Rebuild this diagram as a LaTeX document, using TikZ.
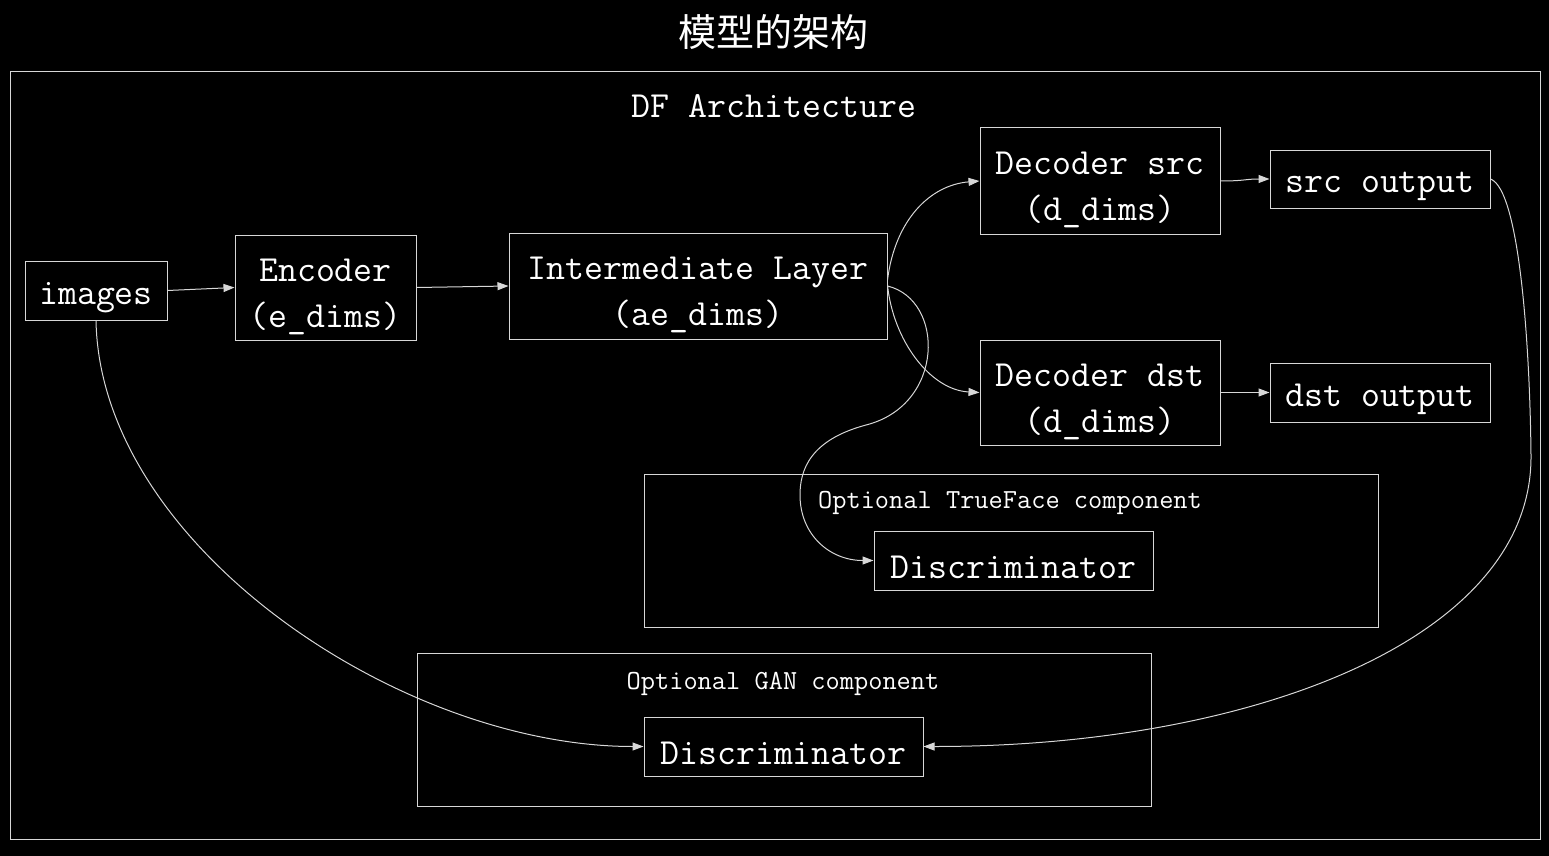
\documentclass[tikz,border=0pt]{standalone}
\usepackage{fontspec}
\newfontfamily\cjkfont{Noto Sans CJK SC}
\usetikzlibrary{arrows.meta}
\definecolor{linecol}{RGB}{215,215,215}
\newcommand{\bigtxt}{\ttfamily\fontsize{36.8}{46}\selectfont}
\newcommand{\smalltxt}{\ttfamily\fontsize{27.6}{30}\selectfont}
\newcommand{\onestrut}{\rule{0pt}{36pt}}
\newcommand{\twostrut}{\rule{0pt}{41pt}}
\tikzset{
  box/.style={draw=linecol, line width=1pt, inner sep=0pt, text=white, align=center, font=\bigtxt},
  cluster/.style={draw=linecol, line width=1pt},
  lbl/.style={text=white, inner sep=0pt},
  conn/.style={draw=linecol, line width=1pt, -{Triangle[length=11pt,width=8pt]}}
}
\begin{document}
\begin{tikzpicture}[x=1pt,y=-1pt]
\fill[black] (0,0) rectangle (1549,856);
\useasboundingbox (0,0) rectangle (1549,856);
% title
\node[lbl, font=\cjkfont\fontsize{38}{40}\selectfont] (title) at (773,32) {模型的架构};
% outer cluster
\draw[cluster] (10,72) rectangle (1540,839);
\node[lbl, font=\bigtxt] (dflbl) at (774,106) {DF Architecture};
% optional clusters
\draw[cluster] (644,474) rectangle (1378,627);
\node[lbl, font=\smalltxt] (tflbl) at (1010,503) {Optional TrueFace component};
\draw[cluster] (417,653) rectangle (1151,806);
\node[lbl, font=\smalltxt] (ganlbl) at (783,684) {Optional GAN component};
% nodes
\node[box, minimum width=142pt, minimum height=59pt] (images) at (96,290.5) {\onestrut images};
\node[box, minimum width=181pt, minimum height=105pt] (enc) at (325.5,287.5) {\twostrut Encoder\\(e\_dims)};
\node[box, minimum width=378pt, minimum height=106pt] (inter) at (698,286) {\twostrut Intermediate Layer\\(ae\_dims)};
\node[box, minimum width=240pt, minimum height=106pt] (decsrc) at (1100,181) {\twostrut Decoder src\\(d\_dims)};
\node[box, minimum width=220pt, minimum height=58pt] (srcout) at (1380,179) {\onestrut src output};
\node[box, minimum width=240pt, minimum height=105pt] (decdst) at (1100,392.5) {\twostrut Decoder dst\\(d\_dims)};
\node[box, minimum width=220pt, minimum height=59pt] (dstout) at (1380,392.5) {\onestrut dst output};
\node[box, minimum width=279pt, minimum height=59pt] (disctf) at (1013.5,560.5) {\onestrut Discriminator};
\node[box, minimum width=279pt, minimum height=59pt] (discgan) at (783.5,746.5) {\onestrut Discriminator};
% connectors
\draw[conn] (images.east) -- (enc.west);
\draw[conn] (enc.east) -- (inter.west);
\draw[conn] ([yshift=6pt]inter.east) .. controls (895,220) and (930,185) .. (decsrc.west);
\draw[conn] ([yshift=1pt]inter.east) .. controls (893,340) and (930,390) .. (decdst.west);
\draw[conn] (inter.east) .. controls (945,300) and (945,405) .. (866,425)
  .. controls (810,440) and (800,470) .. (800,495)
  .. controls (800,535) and (830,560.5) .. (disctf.west);
\draw[conn] (decsrc.east) .. controls (1245,181) and (1245,179) .. (srcout.west);
\draw[conn] (decdst.east) -- (dstout.west);
\draw[conn] (images.south) .. controls (100,545) and (400,746.5) .. (discgan.west);
\draw[conn] (srcout.east) .. controls (1520,190) and (1530,350) .. (1531,456)
  .. controls (1532,640) and (1250,746.5) .. (discgan.east);
\end{tikzpicture}
\end{document}
